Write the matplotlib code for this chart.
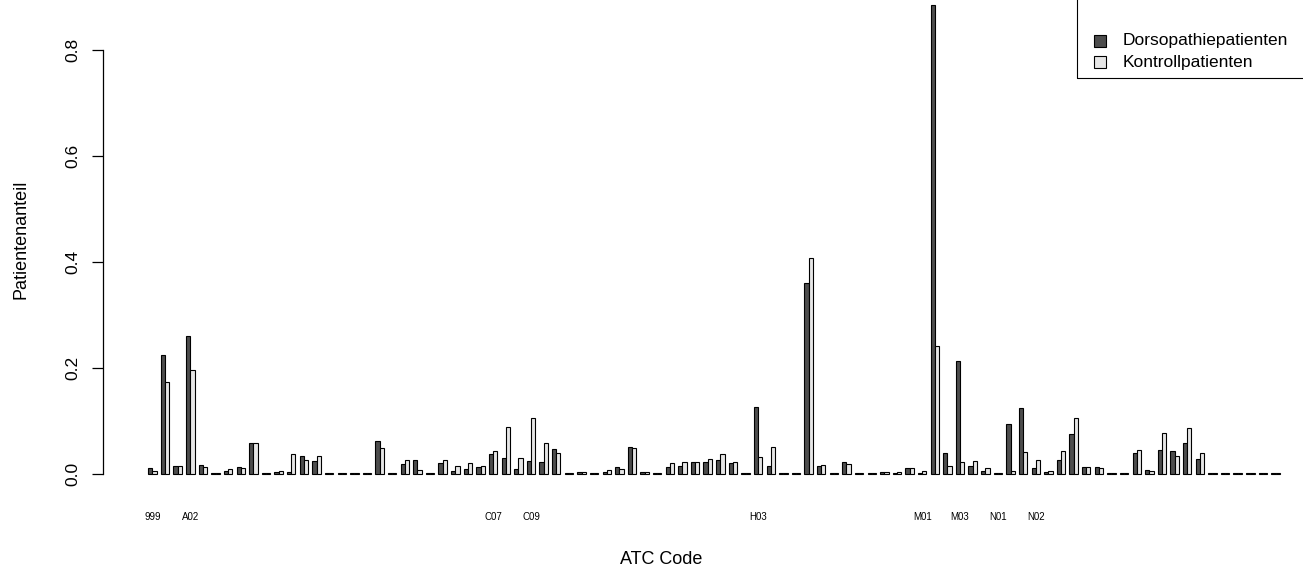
import matplotlib
matplotlib.use("Agg")
import matplotlib.pyplot as plt
from matplotlib.patches import Rectangle
import numpy as np

plt.rcParams['font.family'] = ['Liberation Sans', 'DejaVu Sans']

# Share of patients per ATC code (90 codes, only some names are printed)
atc_labels = [''] * 90
for idx, name in [(0, '999'), (3, 'A02'), (27, 'C07'), (30, 'C09'), (48, 'H03'),
                  (61, 'M01'), (64, 'M03'), (67, 'N01'), (70, 'N02')]:
    atc_labels[idx] = name

dorso = [0.011, 0.224, 0.016, 0.260, 0.017, 0.001, 0.005, 0.014, 0.058, 0.001,
         0.003, 0.004, 0.034, 0.025, 0.001, 0.001, 0.001, 0.001, 0.062, 0.001,
         0.019, 0.026, 0.001, 0.020, 0.005, 0.009, 0.013, 0.038, 0.030, 0.009,
         0.024, 0.022, 0.048, 0.002, 0.004, 0.002, 0.003, 0.013, 0.051, 0.004,
         0.001, 0.014, 0.016, 0.023, 0.023, 0.027, 0.020, 0.001, 0.126, 0.016,
         0.001, 0.001, 0.360, 0.015, 0.001, 0.022, 0.002, 0.001, 0.003, 0.002,
         0.011, 0.002, 0.885, 0.040, 0.213, 0.016, 0.005, 0.001, 0.095, 0.125,
         0.011, 0.003, 0.027, 0.075, 0.013, 0.013, 0.001, 0.001, 0.039, 0.008,
         0.046, 0.044, 0.059, 0.028, 0.002, 0.001, 0.001, 0.001, 0.001, 0.001]

kontroll = [0.006, 0.173, 0.016, 0.196, 0.014, 0.001, 0.009, 0.012, 0.058, 0.001,
            0.006, 0.038, 0.026, 0.034, 0.001, 0.001, 0.001, 0.001, 0.050, 0.001,
            0.026, 0.008, 0.001, 0.026, 0.016, 0.021, 0.016, 0.044, 0.089, 0.031,
            0.106, 0.058, 0.040, 0.002, 0.004, 0.001, 0.007, 0.009, 0.050, 0.004,
            0.001, 0.020, 0.022, 0.023, 0.028, 0.038, 0.022, 0.001, 0.033, 0.051,
            0.001, 0.001, 0.407, 0.017, 0.001, 0.019, 0.001, 0.001, 0.003, 0.004,
            0.012, 0.005, 0.241, 0.016, 0.023, 0.025, 0.011, 0.001, 0.006, 0.042,
            0.026, 0.006, 0.044, 0.106, 0.013, 0.011, 0.001, 0.001, 0.046, 0.005,
            0.078, 0.034, 0.086, 0.039, 0.001, 0.001, 0.001, 0.001, 0.001, 0.001]

series_names = ['Dorsopathiepatienten', 'Kontrollpatienten']
series_colors = ['#4D4D4D', '#E6E6E6']

W, H = 1303, 566
fig = plt.figure(figsize=(W / 100, H / 100), dpi=100)

n = len(dorso)
# grouped bar layout: one empty slot between groups, bars of width 1
left_d = 1 + 3 * np.arange(n)
left_k = left_d + 1
x_lo, x_hi = 1, 3 * n
pad_x = 0.04 * (x_hi - x_lo)
ymax = max(max(dorso), max(kontroll))
pad_y = 0.04 * ymax

# plot region in pixels (extends beyond the right and top edge of the canvas)
px_left, px_right = 103.0, 1325.0
px_bottom = 474 + pad_y * 530
px_top = 474 - (ymax + pad_y) * 530
ax = fig.add_axes([px_left / W, (H - px_bottom) / H,
                   (px_right - px_left) / W, (px_bottom - px_top) / H])
ax.set_xlim(x_lo - pad_x, x_hi + pad_x)
ax.set_ylim(-pad_y, ymax + pad_y)
ax.patch.set_alpha(0)

ax.bar(left_d, dorso, width=1, align='edge', color=series_colors[0],
       edgecolor='black', linewidth=0.8)
ax.bar(left_k, kontroll, width=1, align='edge', color=series_colors[1],
       edgecolor='black', linewidth=0.8)

for s in ['top', 'right', 'bottom']:
    ax.spines[s].set_visible(False)
ax.spines['left'].set_bounds(0, 0.8)
ax.spines['left'].set_linewidth(0.9)

ax.set_yticks([0.0, 0.2, 0.4, 0.6, 0.8])
ax.set_yticklabels(['0.0', '0.2', '0.4', '0.6', '0.8'])
ax.tick_params(axis='y', length=8, width=0.9, pad=8, labelsize=12.5)
for lab in ax.get_yticklabels():
    lab.set_rotation(90)
    lab.set_va('center')
    lab.set_ha('right')

centers = left_d + 1
ax.set_xticks(centers)
ax.set_xticklabels(atc_labels, fontsize=7)
ax.tick_params(axis='x', length=0, pad=14)

ax.set_ylabel('Patientenanteil', fontsize=13, labelpad=26)
fig.text(661 / W, 1 - 560 / H, 'ATC Code', fontsize=13, ha='center', va='center')

# legend box in the upper right corner
lx0, ly_bottom = 1077, 78
fig.patches.append(Rectangle((lx0 / W, 1 - ly_bottom / H), (1400 - lx0) / W, 1.0,
                             transform=fig.transFigure, fill=False,
                             edgecolor='black', linewidth=0.8))
for k, (name, col) in enumerate(zip(series_names, series_colors)):
    yc = 41 + 21 * k
    fig.patches.append(Rectangle((1094 / W, 1 - (yc + 6) / H), 12 / W, 12 / H,
                                 transform=fig.transFigure, facecolor=col,
                                 edgecolor='black', linewidth=0.8))
    fig.text(1123 / W, 1 - yc / H, name, fontsize=12.5, ha='left', va='center')

fig.savefig('out.png', dpi=100)
